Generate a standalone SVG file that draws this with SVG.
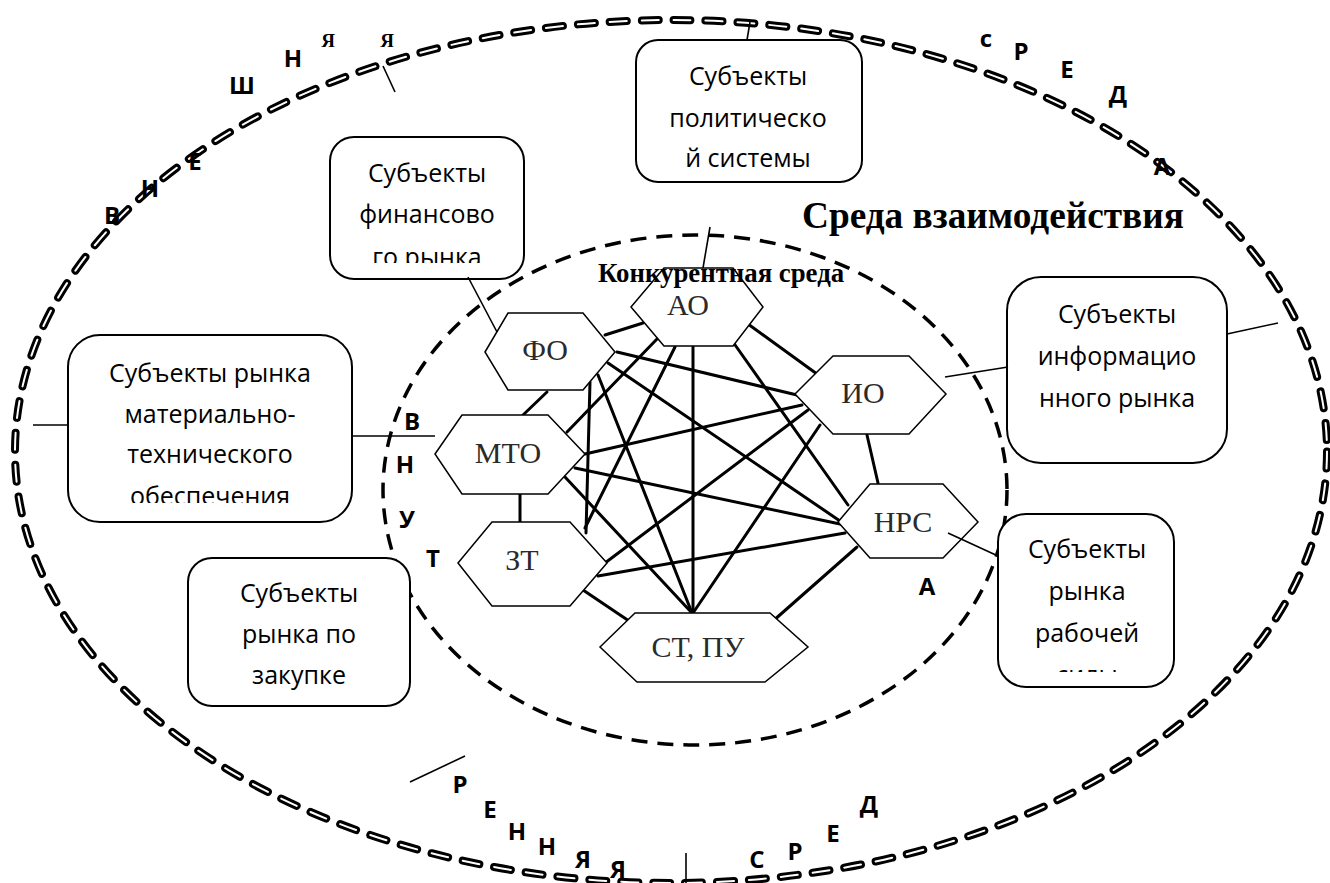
<svg xmlns="http://www.w3.org/2000/svg" width="1330" height="883" viewBox="0 0 1330 883">
<style>
.box{fill:#fff;stroke:#000;stroke-width:2}
.bt{font-family:"Open Sans","Liberation Sans",sans-serif;font-size:25px;fill:#000;text-anchor:middle}
.hex{fill:#fff;stroke:#000;stroke-width:1.5}
.ht{font-family:"Liberation Serif","DejaVu Serif",serif;font-size:30px;fill:#2a2a2a;text-anchor:middle}
.e{stroke:#000;stroke-width:3;fill:none;stroke-linecap:round}
.c{stroke:#000;stroke-width:1.6;fill:none}
.ol{font-family:"Open Sans","Liberation Sans",sans-serif;font-weight:bold;font-size:24px;fill:#000;text-anchor:middle}
.os{font-family:"Liberation Serif",serif;font-weight:bold;font-size:19px;fill:#000;text-anchor:middle}
</style>
<defs>
<clipPath id="cpF"><rect x="330" y="137" width="194" height="126"/></clipPath>
<clipPath id="cpM"><rect x="68" y="335" width="284" height="168"/></clipPath>
<clipPath id="cpR"><rect x="998" y="514" width="176" height="158"/></clipPath>
</defs>
<rect width="1330" height="883" fill="#fff"/>

<g id="outer-ellipse">
<ellipse cx="671" cy="451.5" rx="656" ry="431.5" fill="none" stroke="#000" stroke-width="8" stroke-dasharray="17 15" stroke-linecap="round"/>
<ellipse cx="671" cy="451.5" rx="656" ry="431.5" fill="none" stroke="#fff" stroke-width="2" stroke-dasharray="17 15" stroke-linecap="round"/>
</g>

<g id="outer-letters">
<text class="ol" x="112" y="224">В</text>
<text class="ol" x="150" y="197">Н</text>
<text class="ol" x="195" y="170">Е</text>
<text class="ol" x="242" y="94">Ш</text>
<text class="ol" x="293" y="67">Н</text>
<text class="os" x="328" y="47">Я</text>
<text class="os" x="387" y="47">Я</text>
<text class="ol" x="986" y="47">с</text>
<text class="ol" x="1021" y="60">Р</text>
<text class="ol" x="1067" y="78">Е</text>
<text class="ol" x="1118" y="103">Д</text>
<text class="ol" x="1162" y="175">А</text>
<text class="ol" x="460" y="793">Р</text>
<text class="ol" x="490" y="818">Е</text>
<text class="ol" x="517" y="840">Н</text>
<text class="ol" x="547" y="855">Н</text>
<text class="ol" x="583" y="868">Я</text>
<text class="ol" x="618" y="878">Я</text>
<text class="ol" x="757" y="868">С</text>
<text class="ol" x="795" y="860">Р</text>
<text class="ol" x="833" y="842">Е</text>
<text class="ol" x="869" y="813">Д</text>
</g>

<g id="inner-ellipse">
<ellipse cx="695" cy="490" rx="312" ry="255" fill="none" stroke="#000" stroke-width="3.5" stroke-dasharray="16 10"/>
</g>

<g id="inner-letters">
<text class="ol" x="412" y="430">В</text>
<text class="ol" x="405" y="473">Н</text>
<text class="ol" x="407" y="528">У</text>
<text class="ol" x="433" y="567">Т</text>
<text class="ol" x="927" y="595">А</text>
</g>

<g id="box-politics">
<rect class="box" x="636" y="40" width="226" height="142" rx="22"/>
<text class="bt" x="748" y="85">Субъекты</text>
<text class="bt" x="748" y="127">политическо</text>
<text class="bt" x="748" y="167">й системы</text>
</g>
<g id="box-finance">
<rect class="box" x="330" y="137" width="194" height="142" rx="24"/>
<g clip-path="url(#cpF)">
<text class="bt" x="427" y="182">Субъекты</text>
<text class="bt" x="427" y="223">финансово</text>
<text class="bt" x="427" y="266">го рынка</text>
</g>
</g>
<g id="box-mto">
<rect class="box" x="68" y="335" width="284" height="187" rx="32"/>
<g clip-path="url(#cpM)">
<text class="bt" x="210" y="382">Субъекты рынка</text>
<text class="bt" x="210" y="423">материально-</text>
<text class="bt" x="210" y="463">технического</text>
<text class="bt" x="210" y="505">обеспечения</text>
</g>
</g>
<g id="box-purchase">
<rect class="box" x="188" y="558" width="222" height="148" rx="24"/>
<text class="bt" x="299" y="602">Субъекты</text>
<text class="bt" x="299" y="643">рынка по</text>
<text class="bt" x="299" y="684">закупке</text>
</g>
<g id="box-info">
<rect class="box" x="1007" y="277" width="220" height="186" rx="34"/>
<text class="bt" x="1117" y="323">Субъекты</text>
<text class="bt" x="1117" y="365">информацио</text>
<text class="bt" x="1117" y="407">нного рынка</text>
</g>
<g id="box-labour">
<rect class="box" x="998" y="514" width="176" height="173" rx="28"/>
<g clip-path="url(#cpR)">
<text class="bt" x="1087" y="558">Субъекты</text>
<text class="bt" x="1087" y="600">рынка</text>
<text class="bt" x="1087" y="642">рабочей</text>
<text class="bt" x="1087" y="684">силы</text>
</g>
</g>

<g id="edges">
<line class="e" x1="605" y1="335" x2="643" y2="323"/>
<line class="e" x1="748" y1="324" x2="817" y2="374"/>
<line class="e" x1="733" y1="342" x2="848" y2="505"/>
<line class="e" x1="693" y1="347" x2="693" y2="613"/>
<line class="e" x1="657" y1="339" x2="567" y2="432"/>
<line class="e" x1="675" y1="347" x2="585" y2="528"/>
<line class="e" x1="617" y1="352" x2="797" y2="395"/>
<line class="e" x1="608" y1="363" x2="840" y2="521"/>
<line class="e" x1="598" y1="375" x2="692" y2="613"/>
<line class="e" x1="590" y1="382" x2="586" y2="533"/>
<line class="e" x1="547" y1="392" x2="523" y2="415"/>
<line class="e" x1="585" y1="454" x2="802" y2="405"/>
<line class="e" x1="575" y1="468" x2="840" y2="524"/>
<line class="e" x1="565" y1="477" x2="692" y2="613"/>
<line class="e" x1="520" y1="494" x2="520" y2="522"/>
<line class="e" x1="605" y1="563" x2="808" y2="410"/>
<line class="e" x1="598" y1="576" x2="845" y2="533"/>
<line class="e" x1="583" y1="590" x2="632" y2="623"/>
<line class="e" x1="820" y1="425" x2="693" y2="613"/>
<line class="e" x1="867" y1="435" x2="878" y2="483"/>
<line class="e" x1="857" y1="547" x2="773" y2="621"/>
</g>

<g id="hex-AO"><polygon class="hex" points="631,307 664,268 733,268 763,307 733,346 664,346"/><text class="ht" x="688" y="315">АО</text></g>
<g id="hex-FO"><polygon class="hex" points="485,352 508,313 583,313 615,352 583,390 508,390"/><text class="ht" x="545" y="360">ФО</text></g>
<g id="hex-MTO"><polygon class="hex" points="435,454 462,415 548,415 585,454 548,494 462,494"/><text class="ht" x="508" y="463">МТО</text></g>
<g id="hex-ZT"><polygon class="hex" points="458,563 492,522 570,522 607,563 570,606 492,606"/><text class="ht" x="522" y="570">ЗТ</text></g>
<g id="hex-ST"><polygon class="hex" points="600,647 635,613 770,613 808,647 765,682 637,682"/><text class="ht" x="698" y="657">СТ, ПУ</text></g>
<g id="hex-IO"><polygon class="hex" points="795,394 833,356 909,356 946,394 909,434 833,434"/><text class="ht" x="863" y="403">ИО</text></g>
<g id="hex-NRS"><polygon class="hex" points="838,522 870,484 943,484 978,522 943,558 870,558"/><text class="ht" x="903" y="532">НРС</text></g>

<g id="connectors">
<line class="c" x1="468" y1="277" x2="497" y2="332"/>
<line class="c" x1="710" y1="227" x2="703" y2="268"/>
<line class="c" x1="747" y1="40" x2="750" y2="22"/>
<line class="c" x1="383" y1="66" x2="395" y2="92"/>
<line class="c" x1="33" y1="425" x2="68" y2="425"/>
<line class="c" x1="352" y1="436" x2="435" y2="436"/>
<line class="c" x1="945" y1="377" x2="1008" y2="367"/>
<line class="c" x1="1227" y1="334" x2="1278" y2="323"/>
<line class="c" x1="948" y1="533" x2="998" y2="556"/>
<line class="c" x1="410" y1="782" x2="465" y2="756"/>
<line class="c" x1="686" y1="853" x2="686" y2="883"/>
</g>

<g id="titles">
<text x="802" y="228" font-family="'Liberation Serif',serif" font-weight="bold" font-size="37.3">Среда взаимодействия</text>
<text x="598" y="282" font-family="'Liberation Serif',serif" font-weight="bold" font-size="26.8">Конкурентная среда</text>
</g>
</svg>
